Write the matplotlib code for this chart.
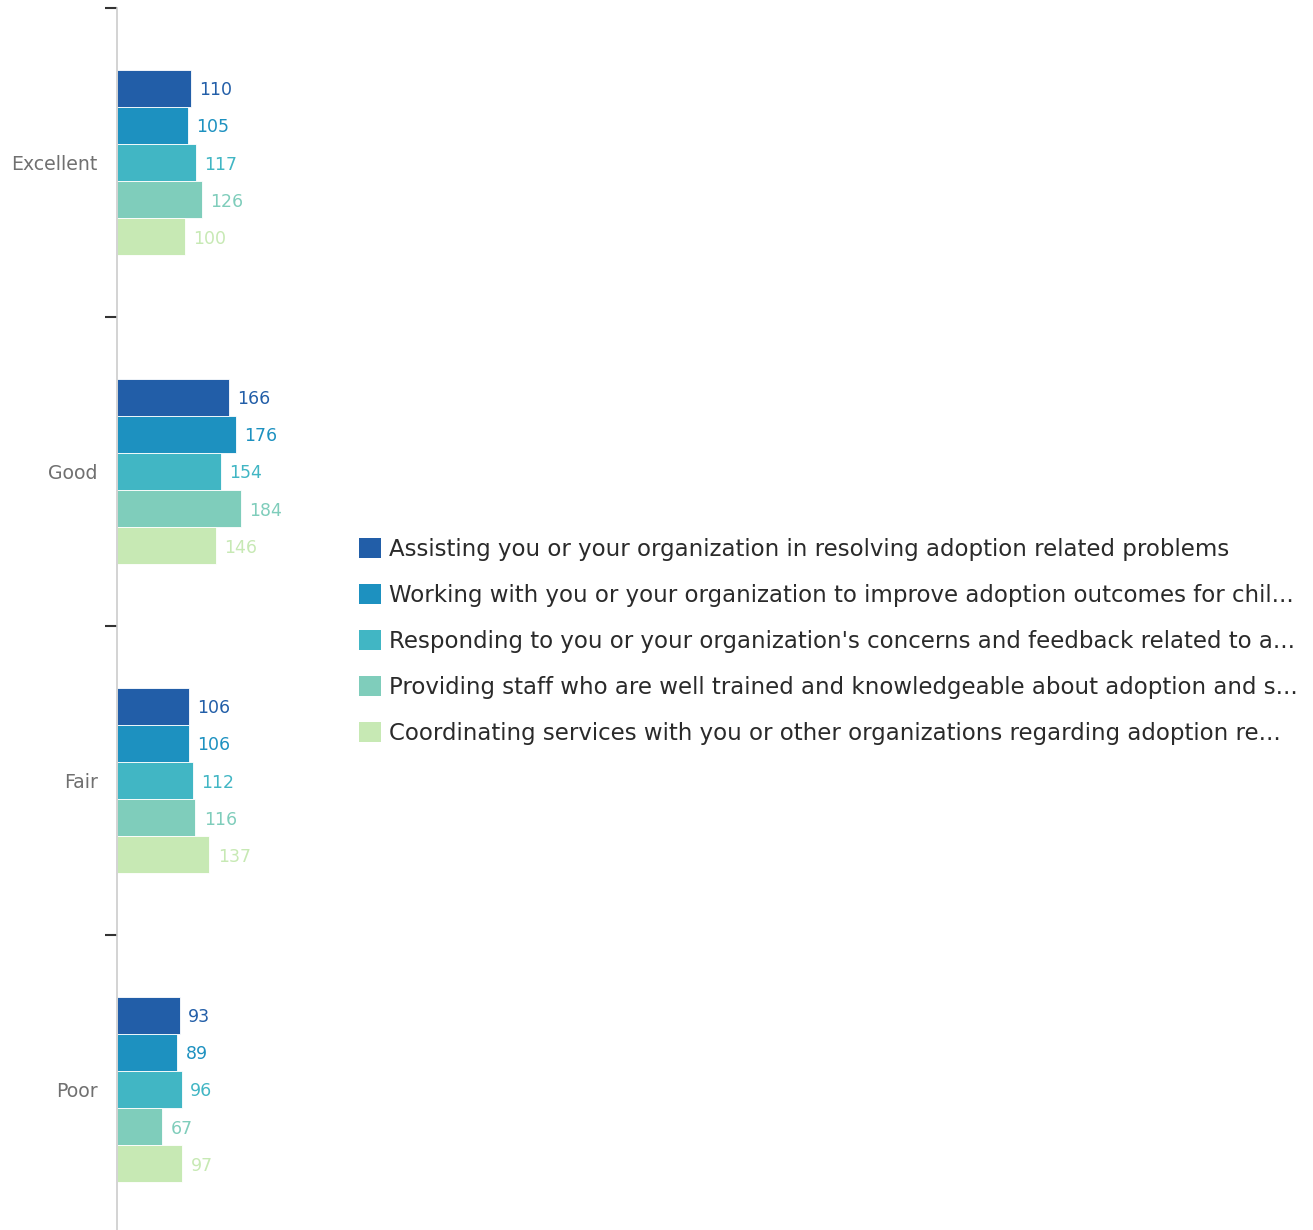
import matplotlib
matplotlib.use("Agg")
import matplotlib.pyplot as plt
from matplotlib.patches import Patch
import numpy as np

plt.rcParams['font.family'] = ['DejaVu Sans']

categories = ["Excellent", "Good", "Fair", "Poor"]
series_names = [
    "Assisting you or your organization in resolving adoption related problems",
    "Working with you or your organization to improve adoption outcomes for chil...",
    "Responding to you or your organization's concerns and feedback related to a...",
    "Providing staff who are well trained and knowledgeable about adoption and s...",
    "Coordinating services with you or other organizations regarding adoption re...",
]
s1 = [110, 166, 106, 93]
s2 = [105, 176, 106, 89]
s3 = [117, 154, 112, 96]
s4 = [126, 184, 116, 67]
s5 = [100, 146, 137, 97]
series_values = [s1, s2, s3, s4, s5]
colors = ["#225ea8", "#1d91c0", "#41b6c4", "#7fcdbb", "#c7e9b4"]

W, H = 1313, 1230
fig = plt.figure(figsize=(W / 100, H / 100), dpi=100)
ax_left, ax_top, ax_w, ax_h = 117, 8, 236, 1236
ax = fig.add_axes([ax_left / W, (H - ax_top - ax_h) / H, ax_w / W, ax_h / H])

n = len(series_values)
bh = 0.12
y = np.arange(len(categories))
for j, (vals, c) in enumerate(zip(series_values, colors)):
    pos = y + (j - (n - 1) / 2) * bh
    bars = ax.barh(pos, vals, height=bh, color=c, edgecolor='white', linewidth=0.6)
    texts = ax.bar_label(bars, labels=[str(v) for v in vals], padding=6, color=c,
                         fontsize=12.5)
    for t in texts:
        t.set_verticalalignment('center_baseline')

ax.set_ylim(len(categories) - 0.5, -0.5)
ax.set_xlim(0, 236 / 0.675)
ax.set_yticks(y)
ax.set_yticklabels(categories, color="#707070", fontsize=13.6)
ax.tick_params(axis='y', which='major', length=0, pad=14)
ax.set_yticks(np.arange(len(categories)) - 0.5, minor=True)
ax.tick_params(axis='y', which='minor', length=9, width=1.5, color="#333333")
ax.set_xticks([])
for s in ['top', 'right', 'bottom']:
    ax.spines[s].set_visible(False)
ax.spines['left'].set_color("#cccccc")
ax.spines['left'].set_linewidth(1.2)

handles = [Patch(facecolor=c, edgecolor='none') for c in colors]
fs = 16.5
fig.legend(handles, series_names, loc='upper left',
           bbox_to_anchor=(359 / W, 1 - 538 / H), frameon=False, fontsize=fs,
           handlelength=0.96, handleheight=0.96, handletextpad=0.36,
           labelspacing=1.0, borderaxespad=0, borderpad=0,
           labelcolor="#2a2a2a")

fig.savefig("out.png", dpi=100)
